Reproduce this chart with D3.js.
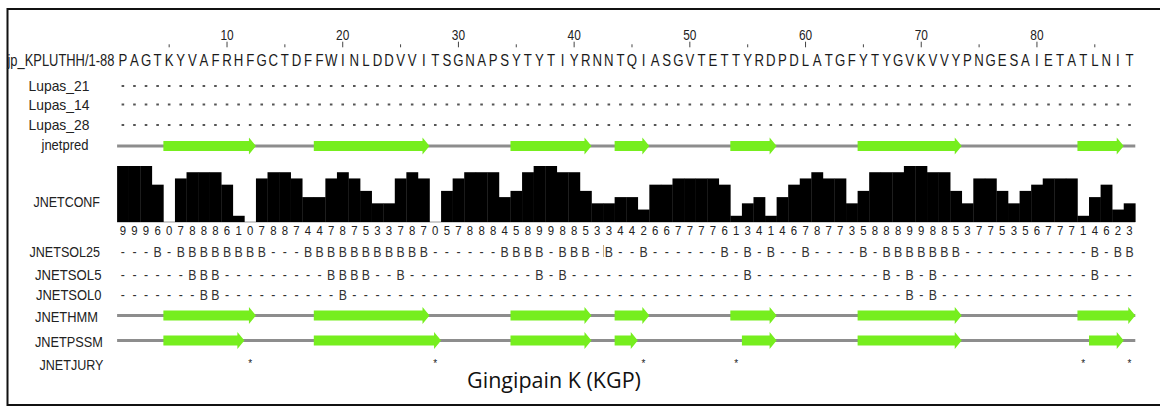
<!DOCTYPE html>
<html>
<head>
<meta charset="utf-8">
<script src="https://cdn.jsdelivr.net/npm/d3@7"></script>
<style>
  html, body { margin: 0; padding: 0; background: #fff; overflow: hidden; }
  svg { display: block; font-family: "Liberation Sans", Arial, Helvetica, sans-serif; }
</style>
</head>
<body>
<svg id="chart" width="1160" height="407"></svg>
<script>
// ---- data ----
const seqName = "jp_KPLUTHH/1-88";
const sequence = "PAGTKYVAFRHFGCTDFFWINLDDVVITSGNAPSYTYTIYRNNTQIASGVTETTYRDPDLATGFYTYGVKVVYPNGESAIETATLNIT";
const tickLabels = [10, 20, 30, 40, 50, 60, 70, 80];
const minorTicks = [5, 15, 25, 35, 45, 55, 65, 75, 85];

const lupas21 = "........................................................................................";
const lupas14 = "........................................................................................";
const lupas28 = "........................................................................................";

// E = strand, - = coil
const jnetpred = "----EEEEEEEE-----EEEEEEEEEE-------EEEEEEE--EEE-------EEEE-------EEEEEEEEE----------EEEE-";
const jnethmm  = "----EEEEEEEE-----EEEEEEEEEE-------EEEEEEE--EEE-------EEEE-------EEEEEEEEE----------EEEEE";
const jnetpssm = "----EEEEEEE------EEEEEEEEEEE------EEEEEEE--EE---------EEE-------EEEEEEEEE-----------EEE-";

const jnetconf = [9,9,9,6,0,7,8,8,8,6, 1,0,7,8,8,7,4,4,7,8, 7,5,3,3,7,8,7,0,5,7,
                  8,8,8,4,5,8,9,9,8,8, 5,3,3,4,4,2,6,6,7,7, 7,7,6,1,3,4,1,4,6,7,
                  8,7,7,3,5,8,8,8,9,9, 8,8,5,3,7,7,5,3,5,6, 7,7,7,1,4,6,2,3];

const sol25 = "---B-BBBBBBBB---BBBBBBBBBBB------BBBB-BBB-B--B------B-B-B--B----B-BBBBBBB-----------B-BB";
const sol5  = "------BBB---------BBBB--B-----------B-B---------------B-----------B-B-B-------------B---";
const sol0  = "-------BB----------B------------------------------------------------B-B-----------------";
const jury  = "           *               *                 *       *                             *   *";

const title = "Gingipain K (KGP)";

// ---- layout ----
const svg = d3.select("#chart");
const cols = d3.range(1, sequence.length + 1);
const x = d3.scaleBand().domain(cols).range([117.1, 1135.3]);
const cx = c => x(c) + x.bandwidth() / 2;
const yConf = d3.scaleLinear().domain([0, 9]).range([222, 166]);

const rows = {
  lupas21: 86, lupas14: 104.5, lupas28: 125,
  jnetpred: 146, hmm: 315.5, pssm: 340.5
};

// frame (open on the right, as in the screenshot)
svg.append("path")
  .attr("d", "M1160,9 L7.5,9 L7.5,405 L1160,405")
  .attr("fill", "none").attr("stroke", "#111").attr("stroke-width", 2);

// row labels, squeezed horizontally to the widths seen in the screenshot
const labels = [
  { t: seqName,     x: 7.5,  w: 107, y: 66,    size: 16.5 },
  { t: "Lupas_21",  x: 28.5, w: 61,  y: 90.5,  size: 15 },
  { t: "Lupas_14",  x: 28.5, w: 61,  y: 109.5, size: 15 },
  { t: "Lupas_28",  x: 28.5, w: 61,  y: 130,   size: 15 },
  { t: "jnetpred",  x: 41.5, w: 47,  y: 150,   size: 15 },
  { t: "JNETCONF",  x: 33.5, w: 66.5,y: 206.5, size: 15 },
  { t: "JNETSOL25", x: 29.5, w: 70.5,y: 256.5, size: 15 },
  { t: "JNETSOL5",  x: 35,   w: 66.5,y: 280,   size: 15 },
  { t: "JNETSOL0",  x: 36,   w: 65.5,y: 300,   size: 15 },
  { t: "JNETHMM",   x: 35,   w: 63,  y: 321.5, size: 15 },
  { t: "JNETPSSM",  x: 35,   w: 68,  y: 346.5, size: 15 },
  { t: "JNETJURY",  x: 39.5, w: 64,  y: 370,   size: 15 }
];
svg.append("g").selectAll("text")
  .data(labels)
  .enter().append("text")
  .attr("font-size", d => d.size)
  .attr("fill", "#222")
  .text(d => d.t)
  .attr("transform", function (d) {
    const k = d.w / this.getComputedTextLength();
    return "translate(" + d.x + "," + d.y + ") scale(" + k + ",1)";
  });

// ruler
const ruler = svg.append("g");
ruler.selectAll(".major")
  .data(tickLabels)
  .enter().append("line")
  .attr("x1", d => cx(d)).attr("x2", d => cx(d))
  .attr("y1", 41.7).attr("y2", 47.3)
  .attr("stroke", "#444").attr("stroke-width", 1);
ruler.selectAll(".minor")
  .data(minorTicks)
  .enter().append("line")
  .attr("x1", d => cx(d)).attr("x2", d => cx(d))
  .attr("y1", 44.3).attr("y2", 47.3)
  .attr("stroke", "#444").attr("stroke-width", 1);
ruler.selectAll("text")
  .data(tickLabels)
  .enter().append("text")
  .attr("transform", d => "translate(" + cx(d) + ",40) scale(0.85,1)")
  .attr("text-anchor", "middle")
  .attr("font-size", 14)
  .attr("fill", "#222")
  .text(d => d);

// sequence letters
svg.append("g").selectAll("text")
  .data(sequence.split(""))
  .enter().append("text")
  .attr("transform", (d, i) => "translate(" + cx(i + 1) + ",66) scale(0.8,1)")
  .attr("text-anchor", "middle")
  .attr("font-size", 16.5)
  .attr("fill", "#1a1a1a")
  .text(d => d);

// Lupas rows: small dots
[[lupas21, rows.lupas21], [lupas14, rows.lupas14], [lupas28, rows.lupas28]].forEach(([s, yy]) => {
  svg.append("g").selectAll("rect")
    .data(s.split(""))
    .enter().append("rect")
    .attr("x", (d, i) => cx(i + 1) - 1.3)
    .attr("y", yy - 1)
    .attr("width", 2.6).attr("height", 2)
    .attr("fill", "#555");
});

// secondary structure rows: grey coil line + green strand arrows
function runs(s) {
  const out = [];
  let start = null;
  s.split("").forEach((c, i) => {
    if (c === "E" && start === null) start = i + 1;
    if (c !== "E" && start !== null) { out.push([start, i]); start = null; }
  });
  if (start !== null) out.push([start, s.length]);
  return out;
}
function ssRow(s, yy) {
  const g = svg.append("g");
  g.append("line")
    .attr("x1", x(1)).attr("x2", x(s.length) + x.bandwidth())
    .attr("y1", yy).attr("y2", yy)
    .attr("stroke", "#8d8d8d").attr("stroke-width", 3);
  g.selectAll("path")
    .data(runs(s))
    .enter().append("path")
    .attr("d", d => {
      const x0 = x(d[0]), x1 = x(d[1]) + x.bandwidth(), hx = x1 - 7;
      return "M" + x0 + "," + (yy - 5) + "L" + hx + "," + (yy - 5) + "L" + hx + "," + (yy - 8.5) +
             "L" + x1 + "," + yy + "L" + hx + "," + (yy + 8.5) + "L" + hx + "," + (yy + 5) +
             "L" + x0 + "," + (yy + 5) + "Z";
    })
    .attr("fill", "#76ee1e");
}
ssRow(jnetpred, rows.jnetpred);
ssRow(jnethmm, rows.hmm);
ssRow(jnetpssm, rows.pssm);

// JNETCONF histogram
svg.append("line")
  .attr("x1", x(1)).attr("x2", x(88) + x.bandwidth())
  .attr("y1", yConf(0)).attr("y2", yConf(0))
  .attr("stroke", "#999").attr("stroke-width", 1);
svg.append("g").selectAll("rect")
  .data(jnetconf)
  .enter().append("rect")
  .attr("x", (d, i) => x(i + 1))
  .attr("y", d => yConf(d))
  .attr("width", x.bandwidth() + 0.3)
  .attr("height", d => yConf(0) - yConf(d))
  .attr("fill", "#000");
svg.append("g").selectAll("text")
  .data(jnetconf)
  .enter().append("text")
  .attr("transform", (d, i) => "translate(" + cx(i + 1) + ",235) scale(0.95,1)")
  .attr("text-anchor", "middle")
  .attr("font-size", 12)
  .attr("fill", "#222")
  .text(d => d);

// solvent accessibility rows
[[sol25, 256.5], [sol5, 280], [sol0, 300]].forEach(([s, yy]) => {
  svg.append("g").selectAll("text")
    .data(s.split(""))
    .enter().append("text")
    .attr("transform", (d, i) => "translate(" + cx(i + 1) + "," + yy + ") scale(0.82,1)")
    .attr("text-anchor", "middle")
    .attr("font-size", 15)
    .attr("fill", "#333")
    .text(d => d);
});
// seam mark between the two stitched screenshots
svg.append("line")
  .attr("x1", x(43) + 0.5).attr("x2", x(43) + 0.5)
  .attr("y1", 245).attr("y2", 257)
  .attr("stroke", "#c9a77c").attr("stroke-width", 1);

// JNETJURY
svg.append("g").selectAll("text")
  .data(jury.split("").map((c, i) => [c, i + 1]).filter(d => d[0] === "*"))
  .enter().append("text")
  .attr("x", d => cx(d[1]))
  .attr("y", 367)
  .attr("text-anchor", "middle")
  .attr("font-size", 10)
  .attr("fill", "#222")
  .text(d => d[0]);

// caption
svg.append("text")
  .attr("x", 554).attr("y", 387.5)
  .attr("text-anchor", "middle")
  .attr("font-family", "'Open Sans', 'Noto Sans', sans-serif")
  .attr("font-size", 21.5)
  .attr("fill", "#111")
  .text(title);
</script>
</body>
</html>
